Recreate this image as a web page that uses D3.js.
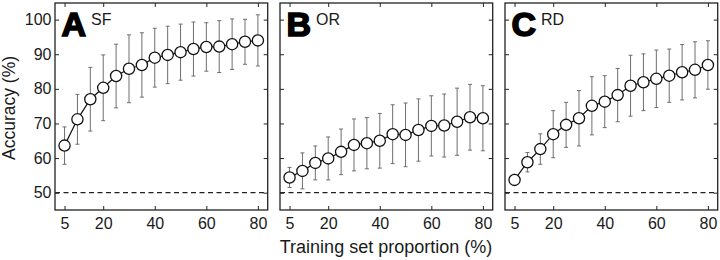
<!DOCTYPE html>
<html><head><meta charset="utf-8">
<script src="https://cdn.jsdelivr.net/npm/d3@7"></script>
<style>body{margin:0;background:#fff}svg{display:block}text{font-family:"Liberation Sans",Arial,sans-serif;fill:#1a1a1a}</style>
</head><body><svg id="c" width="720" height="260"></svg>
<script>
const xValues = [5,10,15,20,25,30,35,40,45,50,55,60,65,70,75,80];
const xTicks = [5,20,40,60,80];
const yTicks = [50,60,70,80,90,100];
const panelLetters = ["A","B","C"];
const panelNames = ["SF","OR","RD"];
const meanSF = [63.6,71.2,77.0,80.3,83.7,85.8,86.9,89.0,89.8,90.6,91.5,92.1,92.2,92.9,93.6,94.0];
const errSF  = [5.4,7.2,9.2,9.5,9.2,9.8,9.3,8.5,8.3,8.1,7.8,7.0,7.5,7.3,6.5,7.4];
const meanOR = [54.4,56.3,58.6,59.9,61.8,63.8,64.3,65.0,66.9,66.7,68.1,69.3,69.4,70.5,71.8,71.5];
const errOR  = [2.9,5.2,4.9,6.2,6.6,7.5,7.4,7.9,8.5,9.2,9.0,8.7,9.1,9.7,9.5,9.4];
const meanRD = [53.7,58.8,62.6,66.9,69.6,71.5,75.1,76.3,78.2,80.9,81.9,82.9,83.8,84.8,85.5,86.9];
const errRD  = [1.6,2.8,4.4,6.8,6.5,8.0,8.4,7.5,7.7,8.8,8.2,8.3,7.7,8.0,8.1,7.0];
const chance = 50;
const means = [meanSF, meanOR, meanRD];
const errs = [errSF, errOR, errRD];

const svg = d3.select("#c");
const lefts = [55, 280, 505];
const pw = 212.7, pTop = 3, pBottom = 210;
const y = d3.scaleLinear().domain([45, 104.8]).range([pBottom, pTop]);

lefts.forEach((L, i) => {
  const x = d3.scaleLinear().domain([1.3, 83.8]).range([L, L + pw]);
  const g = svg.append("g");
  // chance line
  g.append("line").attr("x1", L).attr("x2", L + pw).attr("y1", y(chance)).attr("y2", y(chance))
    .attr("stroke", "#222").attr("stroke-width", 1.2).attr("stroke-dasharray", "5,3.5");
  // axes ticks (inward, all four sides)
  const axL = d3.axisLeft(y).tickValues(yTicks).tickSizeInner(-4).tickSizeOuter(0).tickFormat(i === 0 ? d3.format("d") : () => "");
  const axR = d3.axisRight(y).tickValues(yTicks).tickSizeInner(-4).tickSizeOuter(0).tickFormat(() => "");
  const axB = d3.axisBottom(x).tickValues(xTicks).tickSizeInner(-4).tickSizeOuter(0).tickFormat(d3.format("d"));
  const axT = d3.axisTop(x).tickValues(xTicks).tickSizeInner(-4).tickSizeOuter(0).tickFormat(() => "");
  const gl = g.append("g").attr("transform", `translate(${L},0)`).call(axL);
  const gr = g.append("g").attr("transform", `translate(${L + pw},0)`).call(axR);
  const gb = g.append("g").attr("transform", `translate(0,${pBottom})`).call(axB);
  const gt = g.append("g").attr("transform", `translate(0,${pTop})`).call(axT);
  [gl, gr, gb, gt].forEach(a => {
    a.select(".domain").remove();
    a.selectAll(".tick line").attr("stroke", "#222").attr("stroke-width", 1);
    a.selectAll("text").style("font-family", '"Liberation Sans",Arial,sans-serif').style("font-size", "16px").attr("fill", "#1a1a1a");
  });
  gl.selectAll("text").attr("x", -3.5);
  gb.selectAll("text").attr("y", 8).attr("dy", "0.71em");
  // error bars
  const eb = g.append("g").attr("stroke", "#6e6e6e").attr("stroke-width", 1);
  xValues.forEach((xv, j) => {
    const m = means[i][j], e = errs[i][j];
    eb.append("line").attr("x1", x(xv)).attr("x2", x(xv)).attr("y1", y(m - e)).attr("y2", y(m + e));
    eb.append("line").attr("x1", x(xv) - 2).attr("x2", x(xv) + 2).attr("y1", y(m - e)).attr("y2", y(m - e));
    eb.append("line").attr("x1", x(xv) - 2).attr("x2", x(xv) + 2).attr("y1", y(m + e)).attr("y2", y(m + e));
  });
  // line
  const line = d3.line().x((d, j) => x(xValues[j])).y(d => y(d));
  g.append("path").datum(means[i]).attr("d", line).attr("fill", "none").attr("stroke", "#111").attr("stroke-width", 1.2);
  // circles
  g.selectAll("circle.pt").data(means[i]).join("circle").attr("class", "pt")
    .attr("cx", (d, j) => x(xValues[j])).attr("cy", d => y(d)).attr("r", 5.6)
    .attr("fill", "#fff").attr("stroke", "#111").attr("stroke-width", 1.3);
  // frame
  g.append("rect").attr("x", L).attr("y", pTop).attr("width", pw).attr("height", pBottom - pTop)
    .attr("fill", "none").attr("stroke", "#222").attr("stroke-width", 1.3);
  // panel label
  const t = g.append("text").attr("x", L + 6.5).attr("y", 36);
  t.append("tspan").text(panelLetters[i]).style("font-size", "34px").style("font-weight", "bold")
    .attr("stroke", "#000").attr("stroke-width", 1.6).attr("fill", "#000");
  t.append("tspan").text(panelNames[i]).style("font-size", "16px").attr("dx", 5).attr("dy", -11);
});

svg.append("text").attr("transform", "translate(15,108) rotate(-90)").attr("text-anchor", "middle")
  .style("font-size", "17.5px").text("Accuracy (%)");
svg.append("text").attr("x", 386).attr("y", 253).attr("text-anchor", "middle")
  .style("font-size", "18px").text("Training set proportion (%)");
</script></body></html>
